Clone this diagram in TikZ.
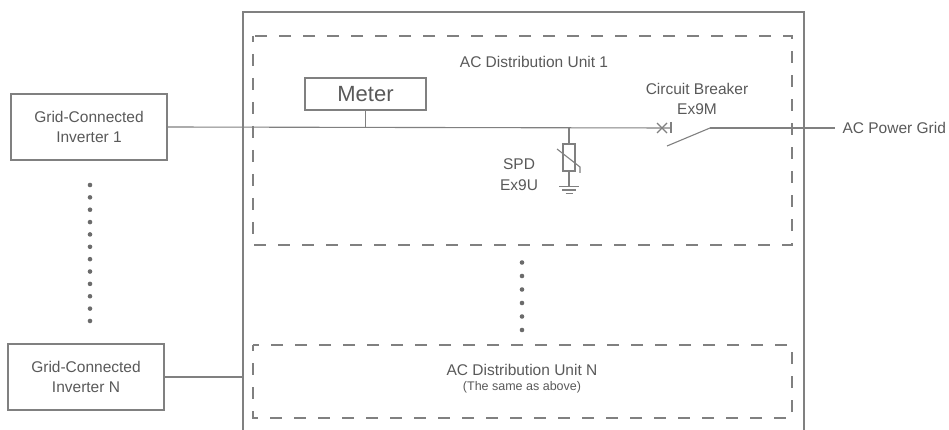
\documentclass[tikz,border=0pt]{standalone}
\usepackage{fontspec}
\setmainfont{Liberation Sans}
\usetikzlibrary{positioning}
\definecolor{wiregray}{HTML}{808080}
\definecolor{textgray}{HTML}{595959}
\definecolor{dotgray}{HTML}{6B6B6B}
\tikzstyle{inv} = [rectangle, draw=wiregray, text=textgray, align=center,
    minimum width=156pt, minimum height=66pt, font=\fontsize{15.5}{20}\selectfont]
\tikzstyle{lbl} = [text=textgray, align=center, inner sep=0pt,
    font=\fontsize{15.5}{20}\selectfont]
\tikzstyle{wire} = [draw=wiregray]
\tikzstyle{unit} = [draw=wiregray, dash pattern=on 12pt off 12pt, dash phase=6pt]

\begin{document}
\begin{tikzpicture}[x=1pt,y=-1pt,line width=1.1pt]
  \useasboundingbox (0,0) rectangle (949,430);

  % cabinet and the two distribution units
  \coordinate (otl) at (243,12);
  \coordinate (otr) at (804,12);
  \draw[wire] (otl |- 0,430) -- (otl) -- (otr) -- (otr |- 0,430);
  \draw[unit] (253,36) rectangle (792,245);
  \draw[unit] (253,345) rectangle (792,418);

  \node[inv]   (inv1)  at (89,127)  {Grid-Connected\\Inverter 1};
  \node[inv]   (invN)  at (86,377)  {Grid-Connected\\Inverter N};
  \node[rectangle, draw=wiregray, text=textgray, minimum width=121pt,
        minimum height=32pt, font=\fontsize{22}{26}\selectfont]
               (meter) at (365.5,94) {Meter};
  \node[lbl]   (u1)    at (534,62)  {AC Distribution Unit 1};
  \node[lbl]   (cblbl) at (697,99)  {Circuit Breaker\\Ex9M};
  \node[lbl, font=\fontsize{15.5}{21}\selectfont]
               (spdlbl) at (519,174.5) {SPD\\Ex9U};
  \node[lbl]   (uN)    at (522,370) {AC Distribution Unit N};
  \node[lbl, font=\fontsize{12.5}{15}\selectfont]
               (uNsub) at (522,387) {(The same as above)};
  \node[lbl, anchor=west] (grid) at (842,128) {AC Power Grid};
  \node[rectangle, draw=wiregray, minimum width=12pt, minimum height=27pt]
               (spdbox) at (569,157.5) {};

  \coordinate (spd)  at (spdbox.north |- inv1.east);
  \coordinate (cbL)  at (671,128);
  \coordinate (cbR)  at (710,128);
  \coordinate (gnd)  at ([yshift=-15pt]spdbox.south);

  % main bus with breaker
  \draw[wire] (inv1.east) -- (cbL);
  \draw[wire] (cbL |- 0,122) -- (cbL |- 0,133);
  \draw[wire] (657,123) -- (667,133) (657,133) -- (667,123);
  \draw[wire] (667,146) -- (cbR);
  \draw[wire] (cbR) -- ([xshift=-7pt]grid.west);
  \draw[wire] (meter.south) -- (meter.south |- inv1.east);
  \draw[wire] (invN.east) -- (invN.east -| otl);

  % surge protector
  \draw[wire] (spd) -- (spdbox.north);
  \draw[wire] (spdbox.south) -- (gnd);
  \draw[wire] (557,149) -- (580,167) -- (580,173);
  \draw[wire] ([xshift=-10pt]gnd) -- ([xshift=10pt]gnd)
              ([xshift=-7pt,yshift=-3.5pt]gnd) -- ([xshift=7pt,yshift=-3.5pt]gnd)
              ([xshift=-3.5pt,yshift=-7pt]gnd) -- ([xshift=3.5pt,yshift=-7pt]gnd);

  % ellipsis dots
  \foreach \i in {0,...,11}
    \fill[dotgray] (90,185+12.36*\i) circle[radius=2.3pt];
  \foreach \i in {0,...,5}
    \fill[dotgray] (522,262.5+13.5*\i) circle[radius=2.3pt];
\end{tikzpicture}
\end{document}
